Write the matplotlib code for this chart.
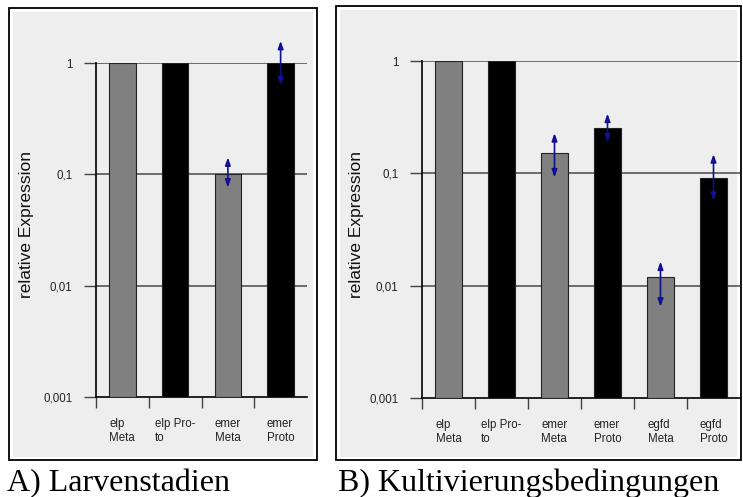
import matplotlib
matplotlib.use("Agg")
import matplotlib.pyplot as plt
from matplotlib.patches import Rectangle
import numpy as np

W, H = 743, 497

# Data
cats_a = ["elp\nMeta", "elp Pro-\nto", "emer\nMeta", "emer\nProto"]
vals_a = [1.0, 1.0, 0.1, 1.0]
err_lo_a = [None, None, 0.076, 0.63]
err_hi_a = [None, None, 0.142, 1.58]
colors_a = ["#808080", "#000000", "#808080", "#000000"]

cats_b = ["elp\nMeta", "elp Pro-\nto", "emer\nMeta", "emer\nProto", "egfd\nMeta", "egfd\nProto"]
vals_b = [1.0, 1.0, 0.15, 0.25, 0.011, 0.09]
err_lo_b = [None, None, 0.092, 0.189, 0.0065, 0.057]
err_hi_b = [None, None, 0.228, 0.34, 0.0164, 0.148]
colors_b = ["#808080", "#000000", "#808080", "#000000", "#808080", "#000000"]

yticks = [0.001, 0.01, 0.1, 1]
yticklabels = ["0,001", "0,01", "0,1", "1"]

fig = plt.figure(figsize=(W / 100, H / 100), dpi=100)
fig.patch.set_facecolor("white")


def fx(px):
    return px / W


def fy(py):
    return 1 - py / H


def frame(x0, y0, x1, y1):
    fig.patches.append(Rectangle((fx(x0), fy(y1)), fx(x1) - fx(x0), fy(y0) - fy(y1),
                                 transform=fig.transFigure, facecolor="white",
                                 edgecolor="black", linewidth=1.3, zorder=-2))
    fig.patches.append(Rectangle((fx(x0 + 4), fy(y1 - 3)), fx(x1 - 4) - fx(x0 + 4),
                                 fy(y0 + 4) - fy(y1 - 3),
                                 transform=fig.transFigure, facecolor="#eeeeee",
                                 edgecolor="none", zorder=-1))


def panel(left, right, top, bottom, cats, vals, lo, hi, colors):
    ax = fig.add_axes([fx(left), fy(bottom), fx(right) - fx(left), fy(top) - fy(bottom)])
    ax.set_facecolor("none")
    ax.set_zorder(1)
    ax.set_yscale("log")
    ax.set_ylim(0.001, 1)
    n = len(cats)
    ax.set_xlim(0, n)
    x = np.arange(n) + 0.5
    ax.bar(x, vals, width=0.5, bottom=0.001, color=colors, edgecolor="#222222",
           linewidth=0.8, zorder=3)
    for yv in yticks[1:]:
        ax.axhline(yv, color="#555555", linewidth=1.2, zorder=1)
    for i in range(n):
        if lo[i] is not None:
            ax.annotate("", xy=(x[i], hi[i]), xytext=(x[i], lo[i]),
                        arrowprops=dict(arrowstyle="<|-|>,head_length=0.45,head_width=0.16",
                                        fc="#1414d8", ec="#10108a", lw=1.2,
                                        shrinkA=0, shrinkB=0),
                        annotation_clip=False, zorder=5)
    ax.set_yticks(yticks)
    ax.set_yticklabels(yticklabels)
    ax.minorticks_off()
    ax.tick_params(axis="y", length=9, width=1.0, color="#444444", labelsize=8.3,
                   pad=8, labelcolor="#222222")
    ax.set_xticks(np.arange(n))
    ax.set_xticklabels([])
    ax.tick_params(axis="x", length=8, width=1.0, color="#444444", direction="out")
    for i, c in enumerate(cats):
        ax.text(x[i], -0.063, c, transform=ax.get_xaxis_transform(), ha="center",
                va="top", ma="left", fontsize=8.3, color="#222222", linespacing=1.2,
                family="Liberation Sans")
    for s in ["top", "right"]:
        ax.spines[s].set_visible(False)
    ax.spines["left"].set_color("black")
    ax.spines["bottom"].set_color("black")
    ax.spines["left"].set_linewidth(1.2)
    ax.spines["bottom"].set_linewidth(1.2)
    for lab in ax.get_yticklabels():
        lab.set_family("Liberation Sans")
    return ax


frame(9, 8, 317, 460)
frame(336, 6, 741, 460)

axa = panel(96, 307, 63, 397, cats_a, vals_a, err_lo_a, err_hi_a, colors_a)
axb = panel(422, 740, 61, 398, cats_b, vals_b, err_lo_b, err_hi_b, colors_b)

for xp in (27, 357):
    fig.text(fx(xp), fy(225), "relative Expression", rotation=90, ha="center",
             va="center", fontsize=12.5, family="Liberation Sans", color="#111111")

fig.text(fx(7), fy(491), "A) Larvenstadien", ha="left", va="baseline",
         fontsize=23, family="Liberation Serif")
fig.text(fx(338), fy(491), "B) Kultivierungsbedingungen", ha="left", va="baseline",
         fontsize=23, family="Liberation Serif")

fig.savefig("out.png", dpi=100)
